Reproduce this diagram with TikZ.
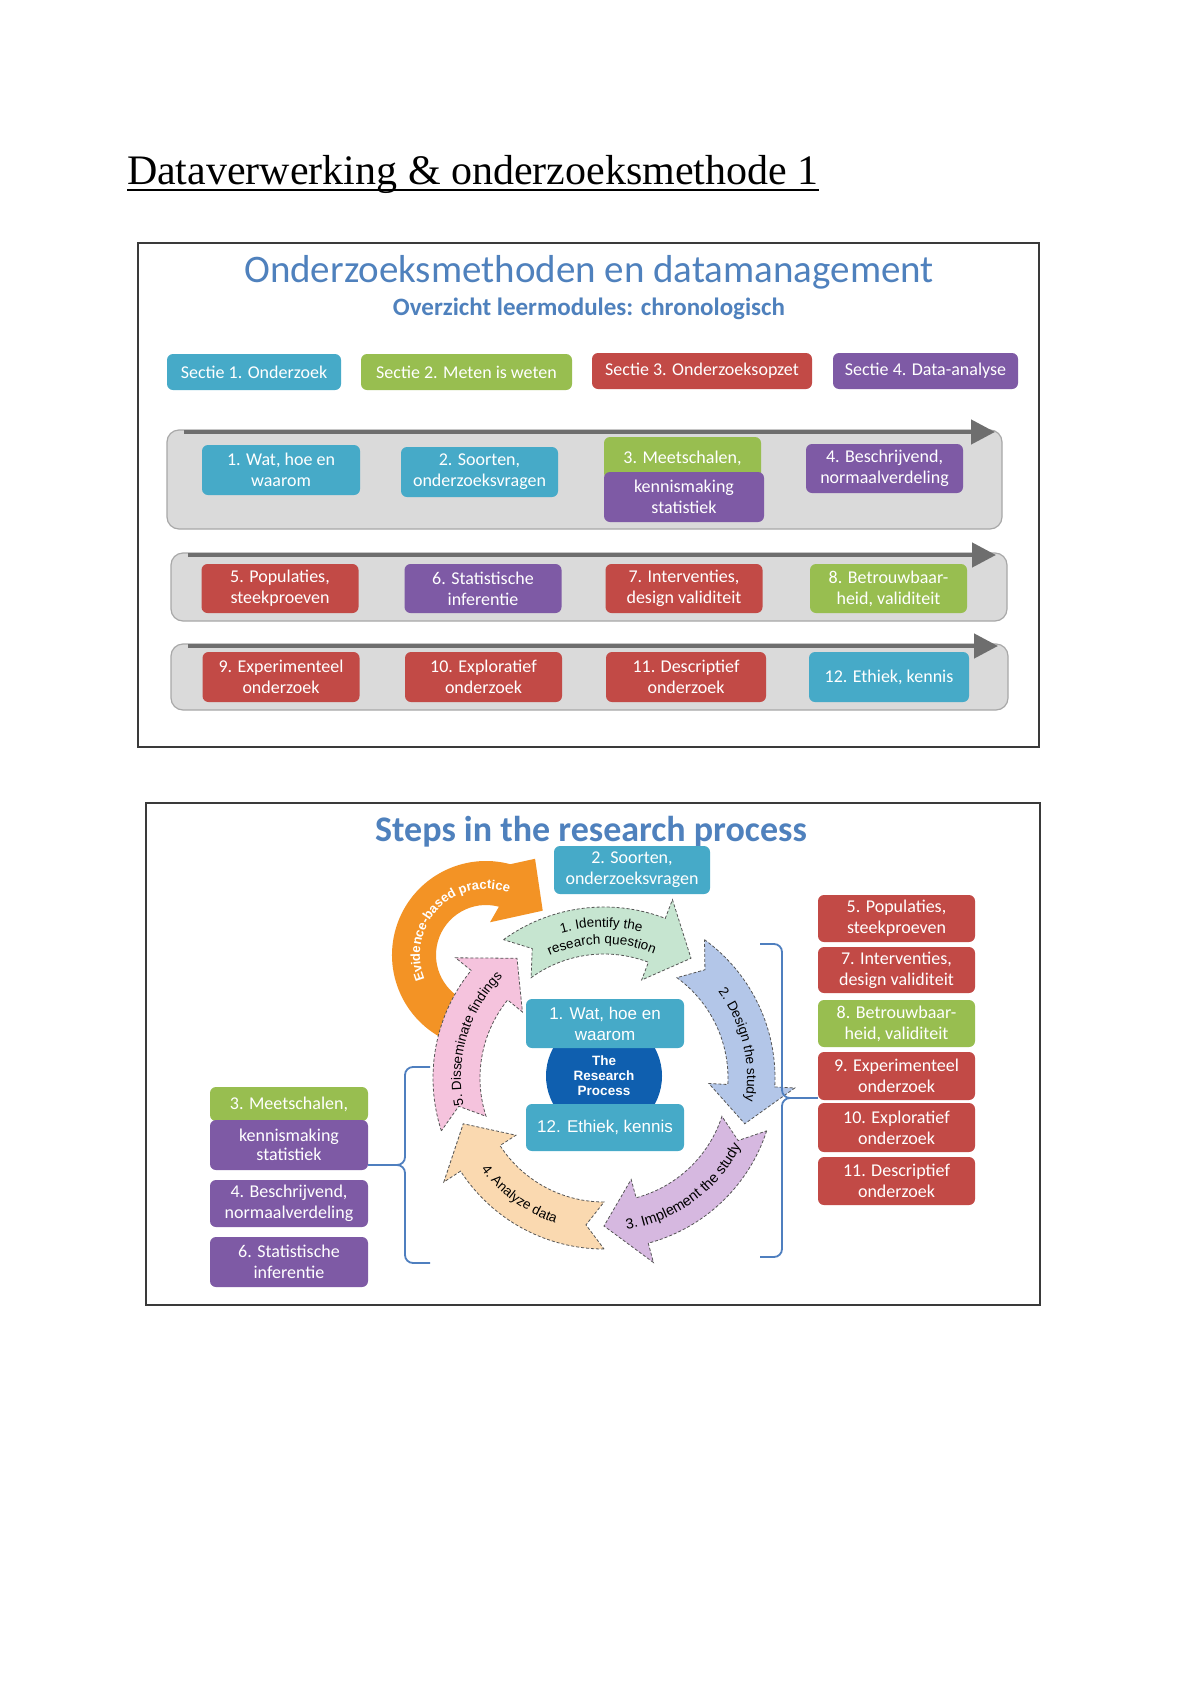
\documentclass[tikz,border=0pt]{standalone}
\usepackage{fontspec}
\setmainfont{Liberation Serif}
\newfontfamily\carlito{Carlito}
\newfontfamily\arialf{Liberation Sans}
\usetikzlibrary{arrows.meta,decorations.text}
\definecolor{titleblue}{HTML}{4F81BD}
\definecolor{cteal}{HTML}{46AAC8}
\definecolor{cgreen}{HTML}{98BE50}
\definecolor{cred}{HTML}{C24A46}
\definecolor{cpurple}{HTML}{7E5AA5}
\definecolor{panelgrey}{HTML}{DADADA}
\definecolor{panelline}{HTML}{A8A8A8}
\definecolor{arrowgrey}{HTML}{6E6E6E}
\definecolor{framec}{HTML}{3A3A3A}
\definecolor{rpblue}{HTML}{0F5FAF}
\definecolor{bracecol}{HTML}{4F7FBF}
\definecolor{cycline}{HTML}{555555}
\definecolor{agreen}{HTML}{C6E5D0}
\definecolor{ablue}{HTML}{B3C6E8}
\definecolor{apurple}{HTML}{D6B8E0}
\definecolor{apeach}{HTML}{FAD9B0}
\definecolor{apink}{HTML}{F5C3DD}
\definecolor{aorange}{HTML}{F39325}
\newcommand\boxfont{\carlito\fontsize{18}{21}\selectfont}
\newcommand\cycfont{\arialf\fontsize{13.5}{16}\selectfont}
\newcommand\cycfontb{\arialf\fontsize{14.5}{17}\selectfont}
\newcommand\evfont{\arialf\bfseries\fontsize{13}{15}\selectfont}
\newcommand\cenfont{\arialf\fontsize{17}{21}\selectfont}
\newcommand\rpfont{\arialf\bfseries\fontsize{13.5}{15}\selectfont}
\newcommand\cycarrow[2]{%
  \path[cyc, fill=#2] ({#1}:171) arc[start angle={#1}, end angle={#1-57}, radius=171]
    -- ({#1-57}:191) -- ({#1-72}:148) -- ({#1-57}:105) -- ({#1-57}:124)
    arc[start angle={#1-57}, end angle={#1}, radius=124] -- ({#1-7}:148) -- cycle;}
\tikzset{
  every node/.style={inner sep=0pt, outer sep=0pt},
  mbox/.style={rounded corners=6pt, text=white, align=center, font=\boxfont, minimum width=157pt},
  panel/.style={rounded corners=12pt, fill=panelgrey, draw=panelline, line width=1.2pt},
  rowarrow/.style={draw=arrowgrey, line width=4.5pt, -{Triangle[length=24pt,width=24pt]}},
  cyc/.style={draw=cycline, line width=0.8pt, dash pattern=on 3pt off 2pt},
  brace/.style={draw=bracecol, line width=1.8pt},
  frame/.style={draw=framec, line width=1.5pt},
}
\begin{document}
\begin{tikzpicture}[x=1pt,y=1pt]
\useasboundingbox (0,0) rectangle (1200,-1694);
\fill[white] (0,0) rectangle (1200,-1694);

% page title
\node[anchor=base west, font=\fontsize{42}{50}\selectfont] (title) at (127,-184) {Dataverwerking \& onderzoeksmethode 1};
\draw[line width=2.6pt] ([yshift=-6pt]title.base west) -- ([yshift=-6pt]title.base east);

% ===== top figure =====
\node[frame, minimum width=901pt, minimum height=504pt] (frame1) at (588.5,-495) {};
\node[font=\carlito\fontsize{39}{46}\selectfont, text=titleblue] (head) at (589,-272) {Onderzoeksmethoden en datamanagement};
\node[font=\carlito\bfseries\fontsize{25}{30}\selectfont, text=titleblue] (sub) at (589,-309) {Overzicht leermodules: chronologisch};

\node[mbox, fill=cteal, minimum width=174pt, minimum height=36pt] (sec1) at (254,-372) {Sectie 1. Onderzoek};
\node[mbox, fill=cgreen, minimum width=211pt, minimum height=36pt] (sec2) at (466.5,-372) {Sectie 2. Meten is weten};
\node[mbox, fill=cred, minimum width=220pt, minimum height=36pt] (sec3) at (702,-371) {Sectie 3. Onderzoeksopzet};
\node[mbox, fill=cpurple, minimum width=185pt, minimum height=36pt] (sec4) at (925.5,-371) {Sectie 4. Data-analyse};

% row 1
\node[panel, minimum width=835pt, minimum height=99pt] (r1) at (584.5,-479.5) {};
\draw[rowarrow] ([xshift=17pt,yshift=-2pt]r1.north west) -- ([xshift=-7pt,yshift=-2pt]r1.north east);
\node[mbox, fill=cteal, minimum width=158pt, minimum height=50pt] (b1) at (281,-470) {1. Wat, hoe en\\waarom};
\node[mbox, fill=cteal, minimum height=50pt] (b2) at (479.5,-472) {2. Soorten,\\onderzoeksvragen};
\node[mbox, fill=cgreen, minimum height=42pt] (b3g) at (682.5,-458) {3. Meetschalen,};
\node[mbox, fill=cpurple, minimum width=160pt, minimum height=50pt] (b3p) at (684,-497) {kennismaking\\statistiek};
\node[mbox, fill=cpurple, minimum height=49pt] (b4) at (884.5,-468.5) {4. Beschrijvend,\\normaalverdeling};

% row 2
\node[panel, minimum width=836pt, minimum height=68pt] (r2) at (589,-587) {};
\draw[rowarrow] ([xshift=17pt,yshift=-2pt]r2.north west) -- ([xshift=-11pt,yshift=-2pt]r2.north east);
\node[mbox, fill=cred, minimum height=49pt] (b5) at (280,-588.5) {5. Populaties,\\steekproeven};
\node[mbox, fill=cpurple, minimum height=49pt] (b6) at (483,-588.5) {6. Statistische\\inferentie};
\node[mbox, fill=cred, minimum height=49pt] (b7) at (684,-588.5) {7. Interventies,\\design validiteit};
\node[mbox, fill=cgreen, minimum height=49pt] (b8) at (888.5,-588.5) {8. Betrouwbaar-\\heid, validiteit};

% row 3
\node[panel, minimum width=837pt, minimum height=66pt] (r3) at (589.5,-677) {};
\draw[rowarrow] ([xshift=17pt,yshift=-2pt]r3.north west) -- ([xshift=-10pt,yshift=-2pt]r3.north east);
\node[mbox, fill=cred, minimum height=50pt] (b9) at (281,-677) {9. Experimenteel\\onderzoek};
\node[mbox, fill=cred, minimum height=50pt] (b10) at (483.5,-677) {10. Exploratief\\onderzoek};
\node[mbox, fill=cred, minimum width=160pt, minimum height=50pt] (b11) at (686,-677) {11. Descriptief\\onderzoek};
\node[mbox, fill=cteal, minimum width=160pt, minimum height=50pt] (b12) at (889,-677) {12. Ethiek, kennis};

% ===== bottom figure =====
\node[frame, minimum width=894pt, minimum height=502pt] (frame2) at (593,-1054) {};
\node[font=\carlito\bfseries\fontsize{36}{43}\selectfont, text=titleblue] (steps) at (591,-832) {Steps in the research process};
\node[mbox, fill=cteal, minimum width=156pt, minimum height=48pt] (s2) at (632,-870) {2. Soorten,\\onderzoeksvragen};

% orange evidence-based practice arrow
\begin{scope}[shift={(486,-955)}]
\path[fill=aorange] (250:94) arc[start angle=250, end angle=75, radius=94]
  -- (63:108) -- (38:72) -- (83:33) -- (75:50)
  arc[start angle=75, end angle=250, radius=50] -- cycle;
\path[decorate, decoration={text along path, text={|\evfont|Evidence-based practice}, text align=center, text color=white}]
  (220:66) arc[start angle=220, end angle=52, radius=66];
\end{scope}

% research cycle
\begin{scope}[shift={(604,-1078)}]
\cycarrow{126}{agreen}
\cycarrow{54}{ablue}
\cycarrow{-18}{apurple}
\cycarrow{-90}{apeach}
\cycarrow{-162}{apink}
\path[decorate, decoration={text along path, text={|\cycfont|1. Identify the}, text align=center}]
  (132:151) arc[start angle=132, end angle=50, radius=151];
\path[decorate, decoration={text along path, text={|\cycfont|research question}, text align=center}]
  (132:134) arc[start angle=132, end angle=50, radius=134];
\path[decorate, decoration={text along path, text={|\cycfont|2. Design the study}, text align=center}]
  (58:143) arc[start angle=58, end angle=-30, radius=143];
\path[decorate, decoration={text along path, text={|\cycfontb|3. Implement the study}, text align=center}]
  (-100:153) arc[start angle=-100, end angle=-8, radius=153];
\path[decorate, decoration={text along path, text={|\cycfont|4. Analyze data}, text align=center}]
  (-170:153) arc[start angle=-170, end angle=-82, radius=153];
\path[decorate, decoration={text along path, text={|\cycfont|5. Disseminate findings}, text align=center}]
  (207:143) arc[start angle=207, end angle=119, radius=143];
\end{scope}

% centre
\node[circle, fill=rpblue, minimum size=116pt, align=center, text=white, font=\rpfont] (rp) at (604,-1076) {The\\Research\\Process};
\node[mbox, fill=cteal, minimum width=158pt, minimum height=49pt, font=\cenfont] (c1) at (605,-1023.5) {1. Wat, hoe en\\waarom};
\node[mbox, fill=cteal, minimum width=158pt, minimum height=47pt, font=\cenfont] (c12) at (605,-1127.5) {12. Ethiek, kennis};

% right boxes
\node[mbox, fill=cred, minimum height=47pt] (rb5) at (896.5,-918.5) {5. Populaties,\\steekproeven};
\node[mbox, fill=cred, minimum height=46pt] (rb7) at (896.5,-970) {7. Interventies,\\design validiteit};
\node[mbox, fill=cgreen, minimum height=47pt] (rb8) at (896.5,-1023.5) {8. Betrouwbaar-\\heid, validiteit};
\node[mbox, fill=cred, minimum height=48pt] (rb9) at (896.5,-1076) {9. Experimenteel\\onderzoek};
\node[mbox, fill=cred, minimum height=49pt] (rb10) at (896.5,-1127.5) {10. Exploratief\\onderzoek};
\node[mbox, fill=cred, minimum height=48pt] (rb11) at (896.5,-1181) {11. Descriptief\\onderzoek};

% left boxes
\node[mbox, fill=cgreen, minimum width=158pt, minimum height=34pt] (lb3g) at (289,-1104) {3. Meetschalen,};
\node[mbox, fill=cpurple, minimum width=158pt, minimum height=50pt, font=\carlito\fontsize{18}{19}\selectfont] (lb3p) at (289,-1145) {kennismaking\\statistiek};
\node[mbox, fill=cpurple, minimum width=158pt, minimum height=47pt] (lb4) at (289,-1203.5) {4. Beschrijvend,\\normaalverdeling};
\node[mbox, fill=cpurple, minimum width=158pt, minimum height=50pt] (lb6) at (289,-1262) {6. Statistische\\inferentie};

% brackets
\coordinate (lcusp) at (397,-1165);
\draw[brace] (430,-1067) -- (413,-1067) to[out=180,in=90] (405,-1075) -- (405,-1157)
  to[out=-90,in=0] (lcusp) to[out=0,in=90] (405,-1173) -- (405,-1255)
  to[out=-90,in=180] (413,-1263) -- (430,-1263);
\draw[brace] (lcusp) -- (lcusp -| lb3p.east);
\coordinate (rcusp) at (790,-1098);
\draw[brace] (760,-944) -- (774,-944) to[out=0,in=90] (782,-952) -- (782,-1090)
  to[out=-90,in=180] (rcusp) to[out=180,in=90] (782,-1106) -- (782,-1249)
  to[out=-90,in=0] (774,-1257) -- (760,-1257);
\draw[brace] (rcusp) -- (rcusp -| rb9.west);
\end{tikzpicture}
\end{document}
